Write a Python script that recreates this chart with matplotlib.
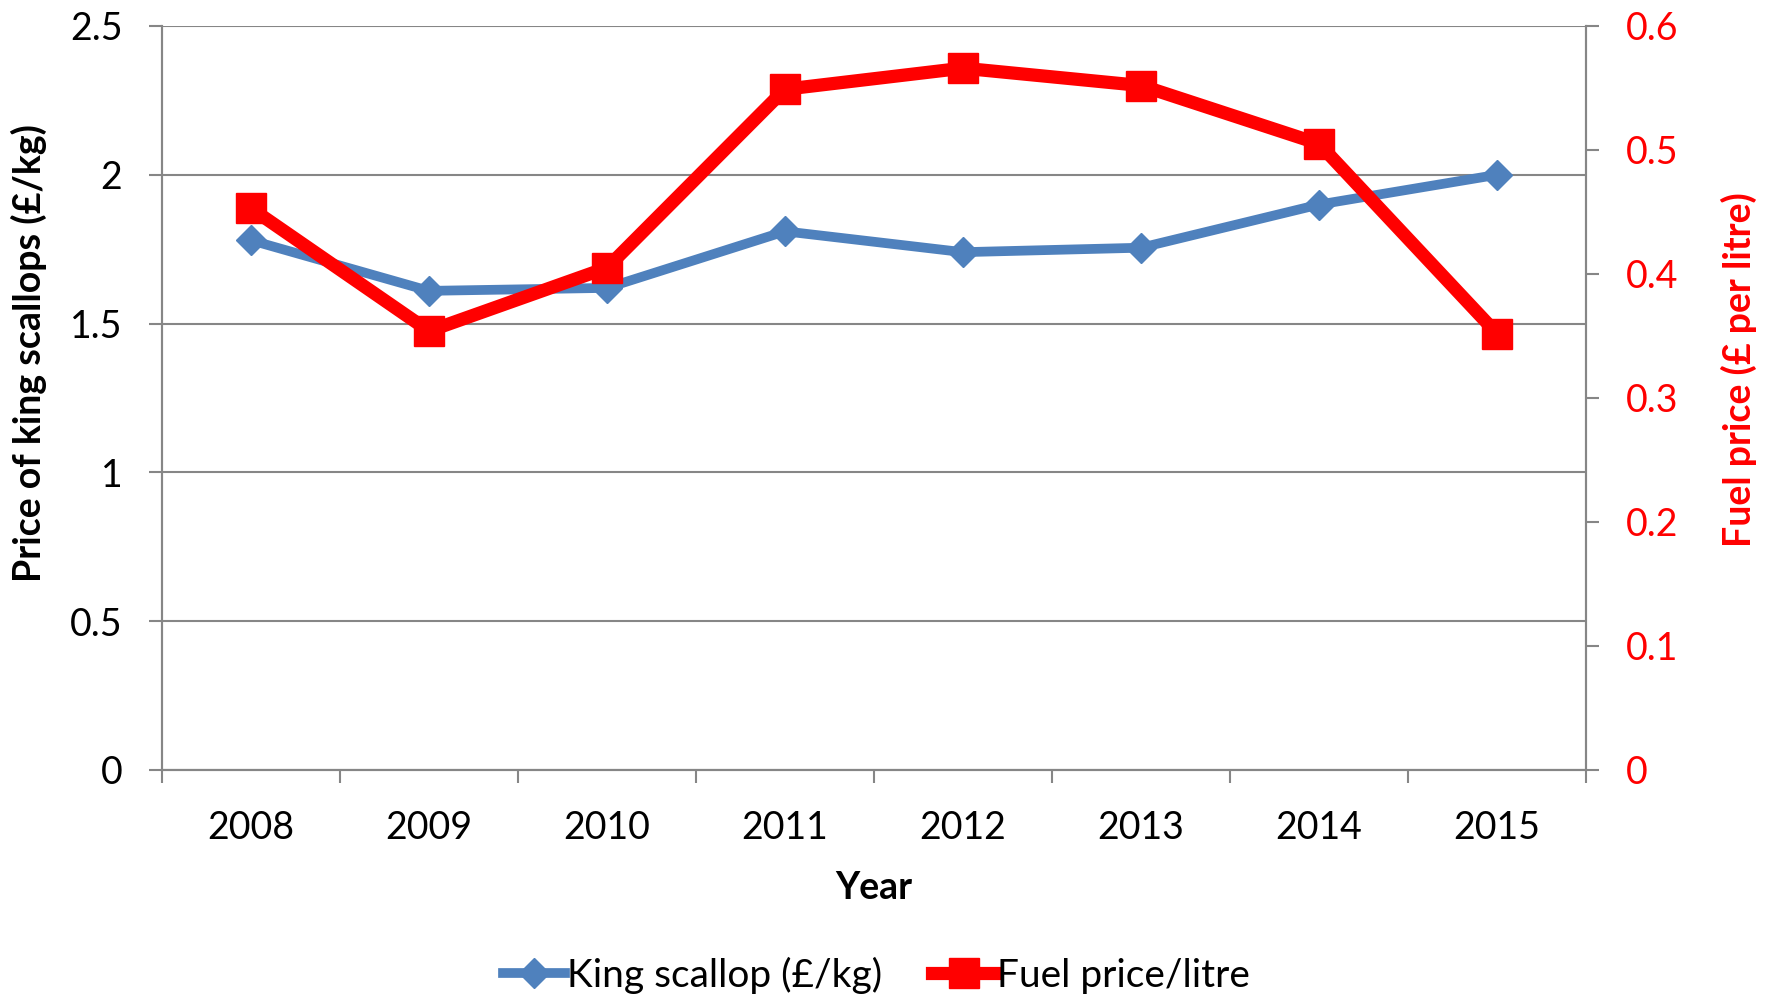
import matplotlib
matplotlib.use("Agg")
import matplotlib.pyplot as plt

# data
years = ["2008", "2009", "2010", "2011", "2012", "2013", "2014", "2015"]
scallop_price = [1.78, 1.61, 1.62, 1.81, 1.74, 1.755, 1.90, 2.00]
fuel_price = [0.453, 0.354, 0.405, 0.549, 0.566, 0.552, 0.505, 0.352]

left_ticks = [0, 0.5, 1, 1.5, 2, 2.5]
left_tick_labels = ["0", "0.5", "1", "1.5", "2", "2.5"]
right_ticks = [0, 0.1, 0.2, 0.3, 0.4, 0.5, 0.6]
right_tick_labels = ["0", "0.1", "0.2", "0.3", "0.4", "0.5", "0.6"]

plt.rcParams["font.family"] = ["Lato", "DejaVu Sans"]
FS = 27
GRAY = "#868686"
BLUE = "#4F81BD"
RED = "#FF0000"

fig = plt.figure(figsize=(17.73, 9.99), dpi=100)
ax = fig.add_axes([162 / 1773, 1 - 770 / 999, 1424 / 1773, 744 / 999])
ax2 = ax.twinx()

x = list(range(len(years)))

# left axis: king scallop price
ln1, = ax.plot(x, scallop_price, color=BLUE, lw=7, marker="D", ms=15,
               solid_joinstyle="round", label="King scallop (£/kg)", zorder=3)
ax.set_ylim(0, 2.5)
ax.set_yticks(left_ticks)
ax.set_yticklabels(left_tick_labels)
ax.yaxis.grid(True, color=GRAY, lw=1.5)
ax.set_axisbelow(True)

# right axis: fuel price
ln2, = ax2.plot(x, fuel_price, color=RED, lw=9.5, marker="s", ms=21,
                solid_joinstyle="miter", label="Fuel price/litre", zorder=3)
ax2.set_ylim(0, 0.6)
ax2.set_yticks(right_ticks)
ax2.set_yticklabels(right_tick_labels)

# category axis with ticks at boundaries
ax.set_xlim(-0.5, len(years) - 0.5)
ax.set_xticks([i - 0.5 for i in range(len(years) + 1)])
ax.set_xticklabels([])
ax.set_xticks(x, minor=True)
ax.set_xticklabels(years, minor=True)
ax.tick_params(axis="x", which="major", length=9.5, width=1.5, color=GRAY)
ax.tick_params(axis="x", which="minor", length=0, pad=29, labelsize=FS)
ax.tick_params(axis="y", length=9.5, width=1.5, color=GRAY, pad=19, labelsize=FS)
ax2.tick_params(axis="y", length=9.5, width=1.5, color=GRAY, pad=19,
                labelsize=FS, labelcolor=RED)

for a in (ax, ax2):
    a.spines["top"].set_visible(False)
    for s in ("left", "right", "bottom"):
        a.spines[s].set_color(GRAY)
        a.spines[s].set_linewidth(1.5)

ax.set_ylabel("Price of king scallops (£/kg)", fontsize=FS, fontweight="bold")
ax.yaxis.set_label_coords(-0.081, 0.56)
ax2.set_ylabel("Fuel price (£ per litre)", fontsize=FS, fontweight="bold", color=RED)
ax2.yaxis.set_label_coords(1.095, 0.538)
ax.set_xlabel("Year", fontsize=FS, fontweight="bold")
ax.xaxis.set_label_coords(0.5, -0.136)

fig.legend([ln1, ln2], [ln1.get_label(), ln2.get_label()], loc="center",
           bbox_to_anchor=(876 / 1773, 1 - 975 / 999), ncol=2, frameon=False,
           fontsize=28, handlelength=1.6, handletextpad=0.05, columnspacing=1.3)

fig.savefig("out.png", dpi=100)
